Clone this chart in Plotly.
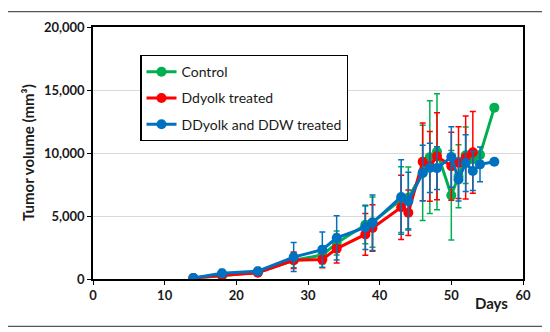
import plotly.graph_objects as go

days_control = [14, 18, 23, 28, 32, 34, 38, 39, 43, 44, 46, 47, 48, 50, 51, 52, 53, 54, 56]
control = [80, 250, 540, 1490, 1900, 2850, 4300, 4510, 6300, 6440, 8420, 9670, 10100, 6640, 8150, 9820, 9500, 9850, 13600]
control_err = [60, 150, 200, 600, 700, 950, 1500, 2000, 2600, 2450, 3780, 4470, 4600, 3550, 2500, 2250, 0, 0, 0]

days_ddyolk = [14, 18, 23, 28, 32, 34, 38, 39, 43, 44, 46, 47, 48, 50, 51, 52, 53]
ddyolk = [80, 300, 490, 1490, 1540, 2410, 3540, 4050, 5690, 5260, 9300, 8940, 9740, 8950, 9230, 9640, 10050]
ddyolk_err = [60, 150, 250, 650, 650, 1150, 1650, 1850, 2550, 1800, 3080, 2760, 3450, 2700, 2850, 3300, 3250]

days_ddw = [14, 18, 23, 28, 32, 34, 38, 39, 43, 44, 46, 47, 48, 50, 51, 52, 53, 54, 56]
ddw = [80, 460, 615, 1740, 2330, 3260, 4100, 4460, 6510, 6180, 8410, 8820, 8800, 9690, 7900, 9200, 8570, 9100, 9300]
ddw_err = [60, 300, 300, 1150, 1400, 1750, 1750, 2200, 2950, 2300, 2200, 1950, 1700, 2400, 1700, 2250, 1550, 1380, 0]

x_ticks = [0, 10, 20, 30, 40, 50, 60]
y_ticks = [0, 5000, 10000, 15000, 20000]
y_tick_text = ["0", "5,000", "10,000", "15,000", "20,000"]

FONT = "Lato, 'Open Sans', sans-serif"

series = [
    ("Control", days_control, control, control_err, "#00B050"),
    ("Ddyolk treated", days_ddyolk, ddyolk, ddyolk_err, "#FF0000"),
    ("DDyolk and DDW treated", days_ddw, ddw, ddw_err, "#0070C0"),
]

fig = go.Figure()
for i, (name, xs, ys, errs, col) in enumerate(series):
    fig.add_trace(go.Scatter(
        x=xs, y=ys, name=name, mode="lines+markers",
        legendgroup=f"g{i}",
        line=dict(color=col, width=3),
        marker=dict(color=col, size=10),
        error_y=dict(type="data", array=errs, visible=True, color=col,
                     thickness=1.5, width=3),
    ))

# page body has an 8px margin, so the figure is offset by (8, 8)
fig.update_layout(
    width=550, height=332,
    margin=dict(l=85, r=35, t=11, b=61),
    paper_bgcolor="white", plot_bgcolor="white",
    font=dict(family=FONT, color="#1a1a1a"),
    showlegend=True,
    legend=dict(
        x=0.11, y=0.889, xanchor="left", yanchor="top",
        bgcolor="white", bordercolor="black", borderwidth=1.2,
        font=dict(family=FONT, size=14, color="#1a1a1a"),
        tracegroupgap=5,
    ),
    xaxis=dict(
        range=[0, 60], tickvals=x_ticks, showgrid=False,
        showline=True, linecolor="black", linewidth=1.5, mirror=True,
        ticks="outside", ticklen=4, tickcolor="black",
        tickfont=dict(family=FONT, size=13, color="#1a1a1a", weight="bold"),
        zeroline=False,
    ),
    yaxis=dict(
        range=[0, 20000], tickvals=y_ticks, ticktext=y_tick_text,
        showgrid=True, gridcolor="#d9d9d9", gridwidth=1,
        showline=True, linecolor="black", linewidth=1.5, mirror=True,
        ticks="outside", ticklen=4, tickcolor="black",
        tickfont=dict(family=FONT, size=13, color="#1a1a1a", weight="bold"),
        zeroline=False,
    ),
    annotations=[
        dict(text="Tumor volume (mm³)", xref="paper", yref="paper",
             x=-0.151, y=0.50, xanchor="center", yanchor="middle",
             textangle=-90, showarrow=False,
             font=dict(family=FONT, size=15, color="#1a1a1a", weight="bold")),
        dict(text="Days", xref="paper", yref="paper",
             x=0.926, y=-0.096, xanchor="center", yanchor="middle",
             showarrow=False,
             font=dict(family=FONT, size=15, color="#1a1a1a", weight="bold")),
    ],
    shapes=[
        dict(type="rect", xref="paper", yref="paper",
             x0=-0.2075, x1=1.0558, y0=-0.1877, y1=1.0613,
             line=dict(color="#555555", width=1.2), layer="below"),
    ],
)

fig.write_html("out.html")
